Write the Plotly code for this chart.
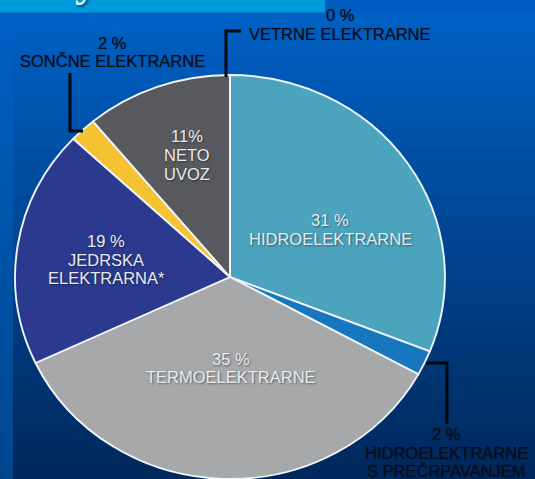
import plotly.graph_objects as go

# ---- data ----
categories = ["HIDROELEKTRARNE", "HIDROELEKTRARNE<br>S PREČRPAVANJEM", "TERMOELEKTRARNE",
              "JEDRSKA<br>ELEKTRARNA*", "SONČNE ELEKTRARNE", "NETO<br>UVOZ", "VETRNE ELEKTRARNE"]
values = [31, 2, 35, 19, 2, 11, 0]
pct_sep = [" ", " ", " ", " ", " ", "", " "]
colors = ["#4ba3be", "#1677bf", "#a7a8aa", "#2b3a8e", "#f5c232", "#58595f", "#88aa55"]
inside = [True, False, True, True, False, True, False]

W, H = 535, 479

def px(x):
    return x / W

def py(y):
    return 1 - y / H

# pie geometry (pixels)
cx, cy, r = 230, 277, 202
stretch = 1.064  # the reference pie is slightly wider than tall

fig = go.Figure()
fig.add_trace(go.Pie(
    labels=categories, values=values, sort=False, direction="clockwise", rotation=0,
    marker=dict(colors=colors, line=dict(color="#eef4f8", width=1.8)),
    textinfo="none", hoverinfo="none", showlegend=False,
    domain=dict(x=[px(cx - r), px(cx + r)], y=[py(cy + r), py(cy - r)]),
))

# background gradient bands
shapes = []
top_c = (0, 96, 196)
bot_c = (0, 40, 92)
left_bot = (0, 70, 142)
n = 48
y0 = 12
for i in range(n):
    t = i / (n - 1)
    ya = y0 + (H - y0) * i / n
    yb = y0 + (H - y0) * (i + 1) / n + 1
    c = tuple(int(round(top_c[k] + (bot_c[k] - top_c[k]) * t)) for k in range(3))
    cl = tuple(int(round(top_c[k] + (left_bot[k] - top_c[k]) * t)) for k in range(3))
    shapes.append(dict(type="rect", xref="paper", yref="paper", x0=px(13), x1=1.01,
                       y0=py(yb), y1=py(ya), fillcolor="rgb(%d,%d,%d)" % c, line_width=0, layer="below"))
    shapes.append(dict(type="rect", xref="paper", yref="paper", x0=-0.01, x1=px(13),
                       y0=py(yb), y1=py(ya), fillcolor="rgb(%d,%d,%d)" % cl, line_width=0, layer="below"))
# top title bar
shapes.append(dict(type="rect", xref="paper", yref="paper", x0=-0.01, x1=px(325),
                   y0=py(12.5), y1=1.01, fillcolor="#0099dc", line_width=0, layer="below"))
shapes.append(dict(type="rect", xref="paper", yref="paper", x0=px(325), x1=1.01,
                   y0=py(12.5), y1=1.01, fillcolor="rgb(0,92,192)", line_width=0, layer="below"))

# leader lines (pixel paths converted to paper)
def path(pts):
    return "M " + " L ".join("%.5f,%.5f" % (px(a), py(b)) for a, b in pts)

leaders = [
    [(226, 77), (226, 31), (241, 31)],      # vetrne
    [(70, 73), (70, 131), (83, 131)],       # soncne
    [(426, 363), (447, 363), (447, 424)],   # crpalne
]
for pts in leaders:
    shapes.append(dict(type="path", xref="paper", yref="paper", path=path(pts),
                       line=dict(color="#050810", width=3)))

# label block centres (pixels)
label_pos = [(330, 229.5), (446, 452.5), (231, 368), (106, 259.5), (112, 52), (187, 155), (340, 24.5)]
line_gap = 18.6

annotations = []
for i, cat in enumerate(categories):
    lines = ["%d%s%%" % (values[i], pct_sep[i])] + cat.split("<br>")
    xc, yc = label_pos[i]
    first = yc - line_gap * (len(lines) - 1) / 2
    if inside[i] and values[i] > 0:
        font = dict(family="Liberation Sans, Arial, sans-serif", size=16.5, color="#e6ebf0",
                    shadow="1px 1px 2px rgba(0,0,0,0.45)")
    else:
        font = dict(family="Liberation Sans, Arial, sans-serif", size=16.5, color="#0a0d18",
                    shadow="0px 0px 1px rgba(0,0,0,0.5)")
    for j, ln in enumerate(lines):
        annotations.append(dict(x=px(xc), y=py(first + j * line_gap), xref="paper", yref="paper",
                                text=ln, showarrow=False, xanchor="center", yanchor="middle",
                                borderpad=0, font=font))

# cut-off title glyph
annotations.append(dict(x=px(86), y=py(8), xref="paper", yref="paper", text="y", showarrow=False,
                        xanchor="center", yanchor="bottom",
                        font=dict(family="Liberation Serif, serif", size=44, color="#ffffff",
                                  shadow="2px 2px 2px rgba(0,0,0,0.5)")))

fig.update_layout(
    width=W, height=H, margin=dict(l=0, r=0, t=0, b=0),
    paper_bgcolor="#003c80", plot_bgcolor="rgba(0,0,0,0)",
    shapes=shapes, annotations=annotations,
)

post = """
document.body.style.margin = '0px';
document.body.style.overflow = 'hidden';
var pl = document.querySelector('.pielayer');
if (pl) { pl.setAttribute('transform', 'translate(%f,0) scale(%f,1) translate(%f,0)'); }
""" % (cx, stretch, -cx)

fig.write_html("out.html", config={"displayModeBar": False, "staticPlot": True}, post_script=post)
